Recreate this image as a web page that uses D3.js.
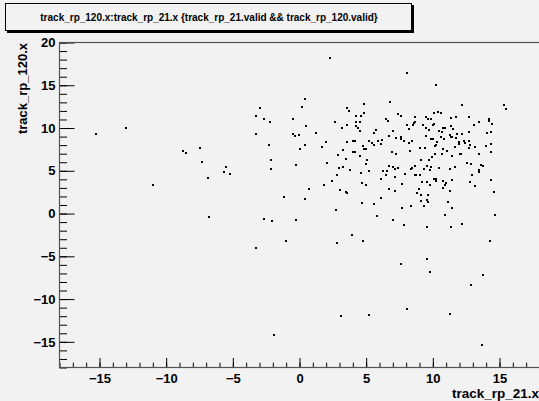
<!DOCTYPE html>
<html>
<head>
<meta charset="utf-8">
<script src="https://cdn.jsdelivr.net/npm/d3@7"></script>
<style>
  body { margin: 0; background: #f2f2f2; }
  svg { display: block; font-family: "Liberation Sans", Arial, sans-serif; }
  .tick text { font-weight: bold; font-size: 13px; fill: #000; }
</style>
</head>
<body>
<svg id="chart" width="539" height="401"></svg>
<script>
// track_rp_21.x values (horizontal)
var rp21x = [
  -15.25, -12.98, -7.5,
  2.27, 0.4, -3.0, 0.2, -3.3, -2.7, -2.25, -0.5, -3.3, 0.52, 1.22, -0.5, -0.35, -0.05, -2.3, 0.4, 0.03, 1.7, 1.97,
  2.65, 3.2, 3.53, 3.58, 3.7, 4.8, 4.8, 4.22, 4.63, 4.53, 4.2, 4.2, 4.4, 4.55, 3.53, 4.0, 4.18, 4.73, 4.8, 4.95, 3.28, 5.2,
  -8.73, -8.5, -7.35, -6.9, -10.97, -6.77,
  4.0, 4.15, 2.88, 3.45, 4.55, 5.08, 5.0, 5.23, -2.13, -2.13, -5.53, -5.68, -5.23, -0.25, 2.03, 2.95, 3.28, 3.78, 4.63,
  2.8, 2.43, 1.82, 0.73, 4.68, 5.0, 3.05, 3.45, 3.53, -1.2, 0.4, 4.68, 2.73, -2.7, -2.05, -0.3, 3.9, -1.0, 2.8, 4.75, -3.23,
  -1.93, 3.08, 5.2,
  7.6, 9.53, 9.78, 13.73, 12.88, 8.03, 11.28, 13.68,
  6.93, 7.25, 8.28, 9.03, 9.38, 10.15, 10.75, 11.05, 10.15, 10.68, 11.65, 12.7, 13.15, 12.0, 12.13, 11.4, 13.45, 14.38, 13.98,
  9.93, 9.7, 9.13, 6.73, 7.0, 7.18, 7.4, 6.23, 6.55, 6.1, 6.5, 7.15, 7.88, 8.38, 8.45, 8.65, 8.63, 8.75, 9.03, 9.33, 9.53,
  9.8, 9.85, 10.43, 11.28, 11.63, 12.53, 12.83, 13.45, 13.45, 13.6, 13.75, 12.9, 12.78, 13.15, 14.38, 14.58, 14.63, 14.25,
  7.7, 6.68, 7.18, 6.1, 5.58, 5.78, 7.0, 7.85, 7.7, 8.38, 9.33, 9.53, 11.33, 12.18, 10.88, 11.45, 11.13, 9.2, 9.55, 9.78,
  8.93, 8.8, 9.13, 9.63, 9.08, 9.58, 9.6, 10.1, 10.2, 10.22, 10.75, 11.0, 10.9, 11.45, 10.73, 11.28,
  8.03, 10.23, 6.8, 12.18, 15.33, 15.48, 6.5, 6.63, 7.38, 7.58, 8.63, 9.45, 9.65, 9.88, 10.1, 10.38, 10.58, 11.35, 11.7,
  12.7, 14.2, 14.2, 14.43, 13.45, 13.08, 8.03, 8.23, 8.5, 8.58, 8.68, 9.25, 9.45, 9.7, 10.0, 10.1, 10.75, 10.88, 10.48,
  10.7, 11.35, 11.5, 11.8, 12.18, 12.73, 14.05, 14.33, 5.7, 5.58, 6.68, 6.98, 7.25, 7.58, 7.63, 7.85, 8.18, 8.43, 9.45,
  9.88, 10.0, 10.33, 10.2, 10.6, 10.8, 11.25, 11.33, 11.43, 11.75, 11.93, 11.93, 12.3, 12.43, 12.75, 12.8, 14.38,
  5.43, 5.55, 5.88, 6.08, 6.18
];
// track_rp_120.x values (vertical), same order
var rp120x = [
  9.25, 9.96, 7.7,
  18.2, 13.4, 12.3, 12.5, 11.4, 11.0, 10.75, 11.0, 9.26, 10.2, 9.46, 9.35, 9.07, 9.15, 8.06, 8.06, 7.55, 7.8, 8.4,
  10.75, 10.05, 10.4, 12.4, 11.95, 12.8, 11.8, 11.4, 11.4, 10.75, 10.65, 10.25, 10.05, 9.7, 8.4, 8.5, 8.5, 7.95, 7.55, 7.55, 7.48, 8.5,
  7.28, 7.13, 6.03, 4.2, 3.3, -0.43,
  7.24, 7.24, 6.81, 6.42, 6.73, 6.3, 5.8, 5.02, 6.3, 5.2, 5.4, 4.9, 4.67, 5.72, 5.91, 5.29, 5.4, 5.14, 4.79,
  4.51, 3.81, 3.39, 2.92, 3.62, 3.39, 2.8, 2.57, 2.45, 1.98, 1.71, 1.28, 0.39, -0.59, -0.82, -0.7, -2.45, -3.16, -3.43, -3.16, -4.05,
  -14.2, -12.0, -11.9,
  -5.84, -5.37, -6.78, -7.17, -8.3, -11.2, -11.7, -15.4,
  7.16, 7.0, 7.32, 7.71, 7.71, 7.9, 7.55, 7.32, 7.0, 7.0, 7.82, 7.71, 7.82, 7.0, 7.0, 6.73, 6.93, 7.24, 7.9,
  6.62, 6.23, 6.3, 5.52, 5.4, 5.21, 5.33, 5.02, 5.02, 4.0, 4.51, 4.28, 4.59, 5.21, 5.37, 5.53, 4.51, 4.51, 4.51, 5.21, 5.53,
  5.14, 5.41, 5.33, 5.21, 5.41, 5.96, 5.76, 5.14, 4.9, 5.72, 5.61, 4.51, 3.74, 3.19, 3.93, 2.57, -0.12, -3.24,
  3.5, 2.92, 2.6, 1.87, 1.17, -0.32, -0.7, -1.29, 0.7, 0.89, 0.89, -1.52, -1.52, -1.25, -0.12, 0.7, 1.36, 3.69, 3.69, 3.39,
  2.92, 2.41, 2.17, 2.17, 1.52, 1.55, 1.36, 4.0, 3.81, 4.09, 3.81, 3.58, 3.39, 3.93, 3.0, 2.6,
  16.39, 15.07, 13.08, 12.65, 12.65, 12.19, 11.05, 10.86, 11.68, 11.45, 11.29, 11.29, 11.1, 11.1, 11.8, 11.87, 11.75, 11.17, 11.29,
  11.25, 11.05, 10.86, 10.47, 10.67, 10.32, 10.4, 9.85, 10.4, 10.58, 10.75, 10.4, 9.97, 9.73, 10.32, 10.47, 10.05, 10.05, 9.65,
  9.53, 10.23, 9.93, 9.3, 9.35, 9.5, 9.38, 9.58, 9.73, 9.46, 9.11, 9.61, 8.88, 8.95, 8.71, 8.45, 8.25, 8.45, 9.11,
  8.71, 8.76, 8.33, 8.01, 8.95, 8.71, 9.15, 8.91, 9.0, 8.88, 8.33, 8.1, 8.53, 8.21, 8.53, 7.98, 8.13,
  8.21, 8.06, 8.45, 8.13, 8.64
];
var xMajor = [-15, -10, -5, 0, 5, 10, 15];
var yMajor = [-15, -10, -5, 0, 5, 10, 15, 20];
var titleText = "track_rp_120.x:track_rp_21.x {track_rp_21.valid && track_rp_120.valid}";
var xTitle = "track_rp_21.x";
var yTitle = "track_rp_120.x";

var svg = d3.select("#chart");
// frame edges (right edge lies just off the picture)
var frameL = 59.5, frameR = 539.5, frameT = 42.5, frameB = 367.5;

var x = d3.scaleLinear().domain([-18, 18]).range([frameL, frameR]);
var y = d3.scaleLinear().domain([-18, 20]).range([frameB, frameT]);

// title box with shadow
svg.append("rect").attr("x", 7).attr("y", 5).attr("width", 407).attr("height", 28).attr("fill", "#000");
svg.append("rect").attr("x", 5.5).attr("y", 3.5).attr("width", 406).attr("height", 27)
  .attr("fill", "#f2f2f2").attr("stroke", "#000").attr("stroke-width", 1);
svg.append("text").attr("x", 209).attr("y", 20.5).attr("text-anchor", "middle")
  .style("font-size", "10px").style("font-weight", "bold").text(titleText);

// minor ticks
svg.append("g").attr("transform", "translate(" + frameL + ",0)")
  .call(d3.axisLeft(y).tickValues(d3.range(-18, 21)).tickSize(-7.5).tickFormat(""))
  .call(function(g) { g.select(".domain").remove(); });
svg.append("g").attr("transform", "translate(0," + frameB + ")")
  .call(d3.axisBottom(x).tickValues(d3.range(-18, 19)).tickSize(-4.8).tickFormat(""))
  .call(function(g) { g.select(".domain").remove(); });

// major ticks + labels
svg.append("g").attr("transform", "translate(" + frameL + ",0)")
  .call(d3.axisLeft(y).tickValues(yMajor).tickSize(-15).tickPadding(4))
  .call(function(g) { g.select(".domain").remove(); });
svg.append("g").attr("transform", "translate(0," + frameB + ")")
  .call(d3.axisBottom(x).tickValues(xMajor).tickSize(-9.5).tickPadding(6.5))
  .call(function(g) { g.select(".domain").remove(); });

svg.selectAll(".tick line").attr("stroke", "#000");

// frame
svg.append("rect").attr("x", frameL).attr("y", frameT).attr("width", frameR - frameL + 5).attr("height", frameB - frameT)
  .attr("fill", "none").attr("stroke", "#555").attr("stroke-width", 1.2);

// points
svg.append("g").selectAll("rect").data(d3.range(rp21x.length)).join("rect")
  .attr("x", function(i) { return Math.round(x(rp21x[i])) - 1; })
  .attr("y", function(i) { return Math.round(y(rp120x[i])) - 1; })
  .attr("width", 2).attr("height", 2)
  .attr("fill", "#000");

// axis titles
svg.append("text").attr("x", 539).attr("y", 398).attr("text-anchor", "end")
  .style("font-size", "13.5px").style("font-weight", "bold").text(xTitle);
svg.append("text").attr("transform", "translate(27,43) rotate(-90)").attr("text-anchor", "end")
  .style("font-size", "13px").style("font-weight", "bold").text(yTitle);
</script>
</body>
</html>
